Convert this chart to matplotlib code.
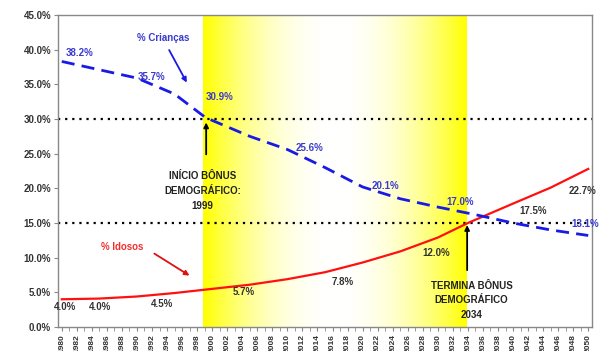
import numpy as np
import matplotlib
matplotlib.use("Agg")
import matplotlib.pyplot as plt

plt.rcParams['font.family'] = ['Liberation Sans', 'DejaVu Sans']

years = list(range(1980, 2051))

# Key points (year, %)
criancas_years = [1980, 1985, 1990, 1995, 1999, 2000, 2005, 2010, 2015, 2020, 2025, 2030, 2035, 2040, 2045, 2050]
criancas_vals  = [38.3, 37.1, 35.9, 33.6, 30.3, 29.8, 27.5, 25.6, 23.0, 20.2, 18.5, 17.3, 16.2, 15.0, 14.0, 13.2]

idosos_years = [1980, 1985, 1990, 1995, 2000, 2005, 2010, 2015, 2020, 2025, 2030, 2034, 2040, 2045, 2050]
idosos_vals  = [4.0, 4.1, 4.4, 4.9, 5.5, 6.1, 6.9, 7.9, 9.3, 10.9, 12.9, 15.0, 17.8, 20.1, 22.8]

criancas_labels = [(1982.4, 39.5, "38.2%"), (1992, 36.1, "35.7%"), (2001, 33.2, "30.9%"),
                   (2013, 25.8, "25.6%"), (2023, 20.3, "20.1%"), (2033, 18.0, "17.0%"),
                   (2049.6, 14.9, "13.1%")]
idosos_labels = [(1980.4, 2.9, "4.0%"), (1985.1, 2.9, "4.0%"), (1993.3, 3.3, "4.5%"),
                 (2004.2, 5.0, "5.7%"), (2017.3, 6.5, "7.8%"), (2029.8, 10.7, "12.0%"),
                 (2042.7, 16.7, "17.5%"), (2049.3, 19.6, "22.7%")]

yticks = [0, 5, 10, 15, 20, 25, 30, 35, 40, 45]

fig = plt.figure(figsize=(6.07, 3.51), dpi=100)
ax = fig.add_axes([58/607, 1-327/351, (592-58)/607, (327-15)/351])

def xi(y):
    return np.asarray(y) - 1980

# gradient band 1999-2034
t = np.linspace(0, 1, 300)
d = np.abs(t - 0.5) * 2
f = d ** 2.0
img = np.ones((2, len(t), 3))
img[:, :, 2] = 1 - f
ax.imshow(img, extent=[18.75, 53.75, 0, 45], aspect='auto', zorder=0, interpolation='bilinear')

ax.axhline(30, color='black', ls=(0, (1, 2.2)), lw=1.6, zorder=2)
ax.axhline(15, color='black', ls=(0, (1, 2.2)), lw=1.6, zorder=2)

ax.plot(xi(idosos_years), idosos_vals, color='#ff1010', lw=1.6, zorder=3)
ax.plot(xi(criancas_years), criancas_vals, color='#1a1ae6', lw=2.0, ls=(0, (4.7, 2.6)), zorder=3)

for x, y, s in criancas_labels:
    ax.text(xi(x), y, s, color='#3a3ad0', fontsize=7, fontweight='bold', ha='center', va='center', zorder=4)
for x, y, s in idosos_labels:
    ax.text(xi(x), y, s, color='#333333', fontsize=7, fontweight='bold', ha='center', va='center', zorder=4)

ax.text(xi(1993.5), 41.7, "% Crianças", color='#3a3ad0', fontsize=7, fontweight='bold', ha='center', va='center')
ax.annotate("", xy=(xi(1996.8), 34.9), xytext=(xi(1994.1), 40.3),
            arrowprops=dict(arrowstyle='-|>', color='#1a1ae6', lw=1.3, mutation_scale=7))
ax.text(xi(1988), 11.5, "% Idosos", color='#f03030', fontsize=7, fontweight='bold', ha='center', va='center')
ax.annotate("", xy=(xi(1997.3), 7.2), xytext=(xi(1992), 10.8),
            arrowprops=dict(arrowstyle='-|>', color='#e01010', lw=1.3, mutation_scale=7))

ax.text(xi(1998.7), 22.5, "INÍCIO BÔNUS\nDEMOGRÁFICO:\n1999", color='#222222', fontsize=7,
        fontweight='bold', ha='center', va='top', linespacing=1.6)
ax.annotate("", xy=(xi(1999.2), 29.9), xytext=(xi(1999.2), 24.5),
            arrowprops=dict(arrowstyle='-|>', color='black', lw=1.3, mutation_scale=7))
ax.text(xi(2034.5), 6.7, "TERMINA BÔNUS\nDEMOGRÁFICO\n2034", color='#222222', fontsize=7,
        fontweight='bold', ha='center', va='top', linespacing=1.6)
ax.annotate("", xy=(xi(2033.9), 15.1), xytext=(xi(2033.9), 7.8),
            arrowprops=dict(arrowstyle='-|>', color='black', lw=1.3, mutation_scale=7))

ax.set_xlim(-0.5, 70.5)
ax.set_ylim(0, 45)
ax.set_yticks(yticks)
ax.set_yticklabels([f"{v:.1f}%" for v in yticks], fontsize=7, fontweight='bold', color='#333333')
ax.set_xticks(xi(years[::2]))
ax.set_xticklabels([str(y) for y in years[::2]], rotation=90, fontsize=6, fontweight='bold', color='#333333')
ax.set_xticks(xi(years), minor=True)
ax.tick_params(axis='x', which='both', length=3, color='#888888', pad=2)
ax.tick_params(axis='y', length=3, color='#888888', pad=2)
for sp in ax.spines.values():
    sp.set_color('#888888')
    sp.set_linewidth(1.0)

fig.savefig("out.png", dpi=100)
